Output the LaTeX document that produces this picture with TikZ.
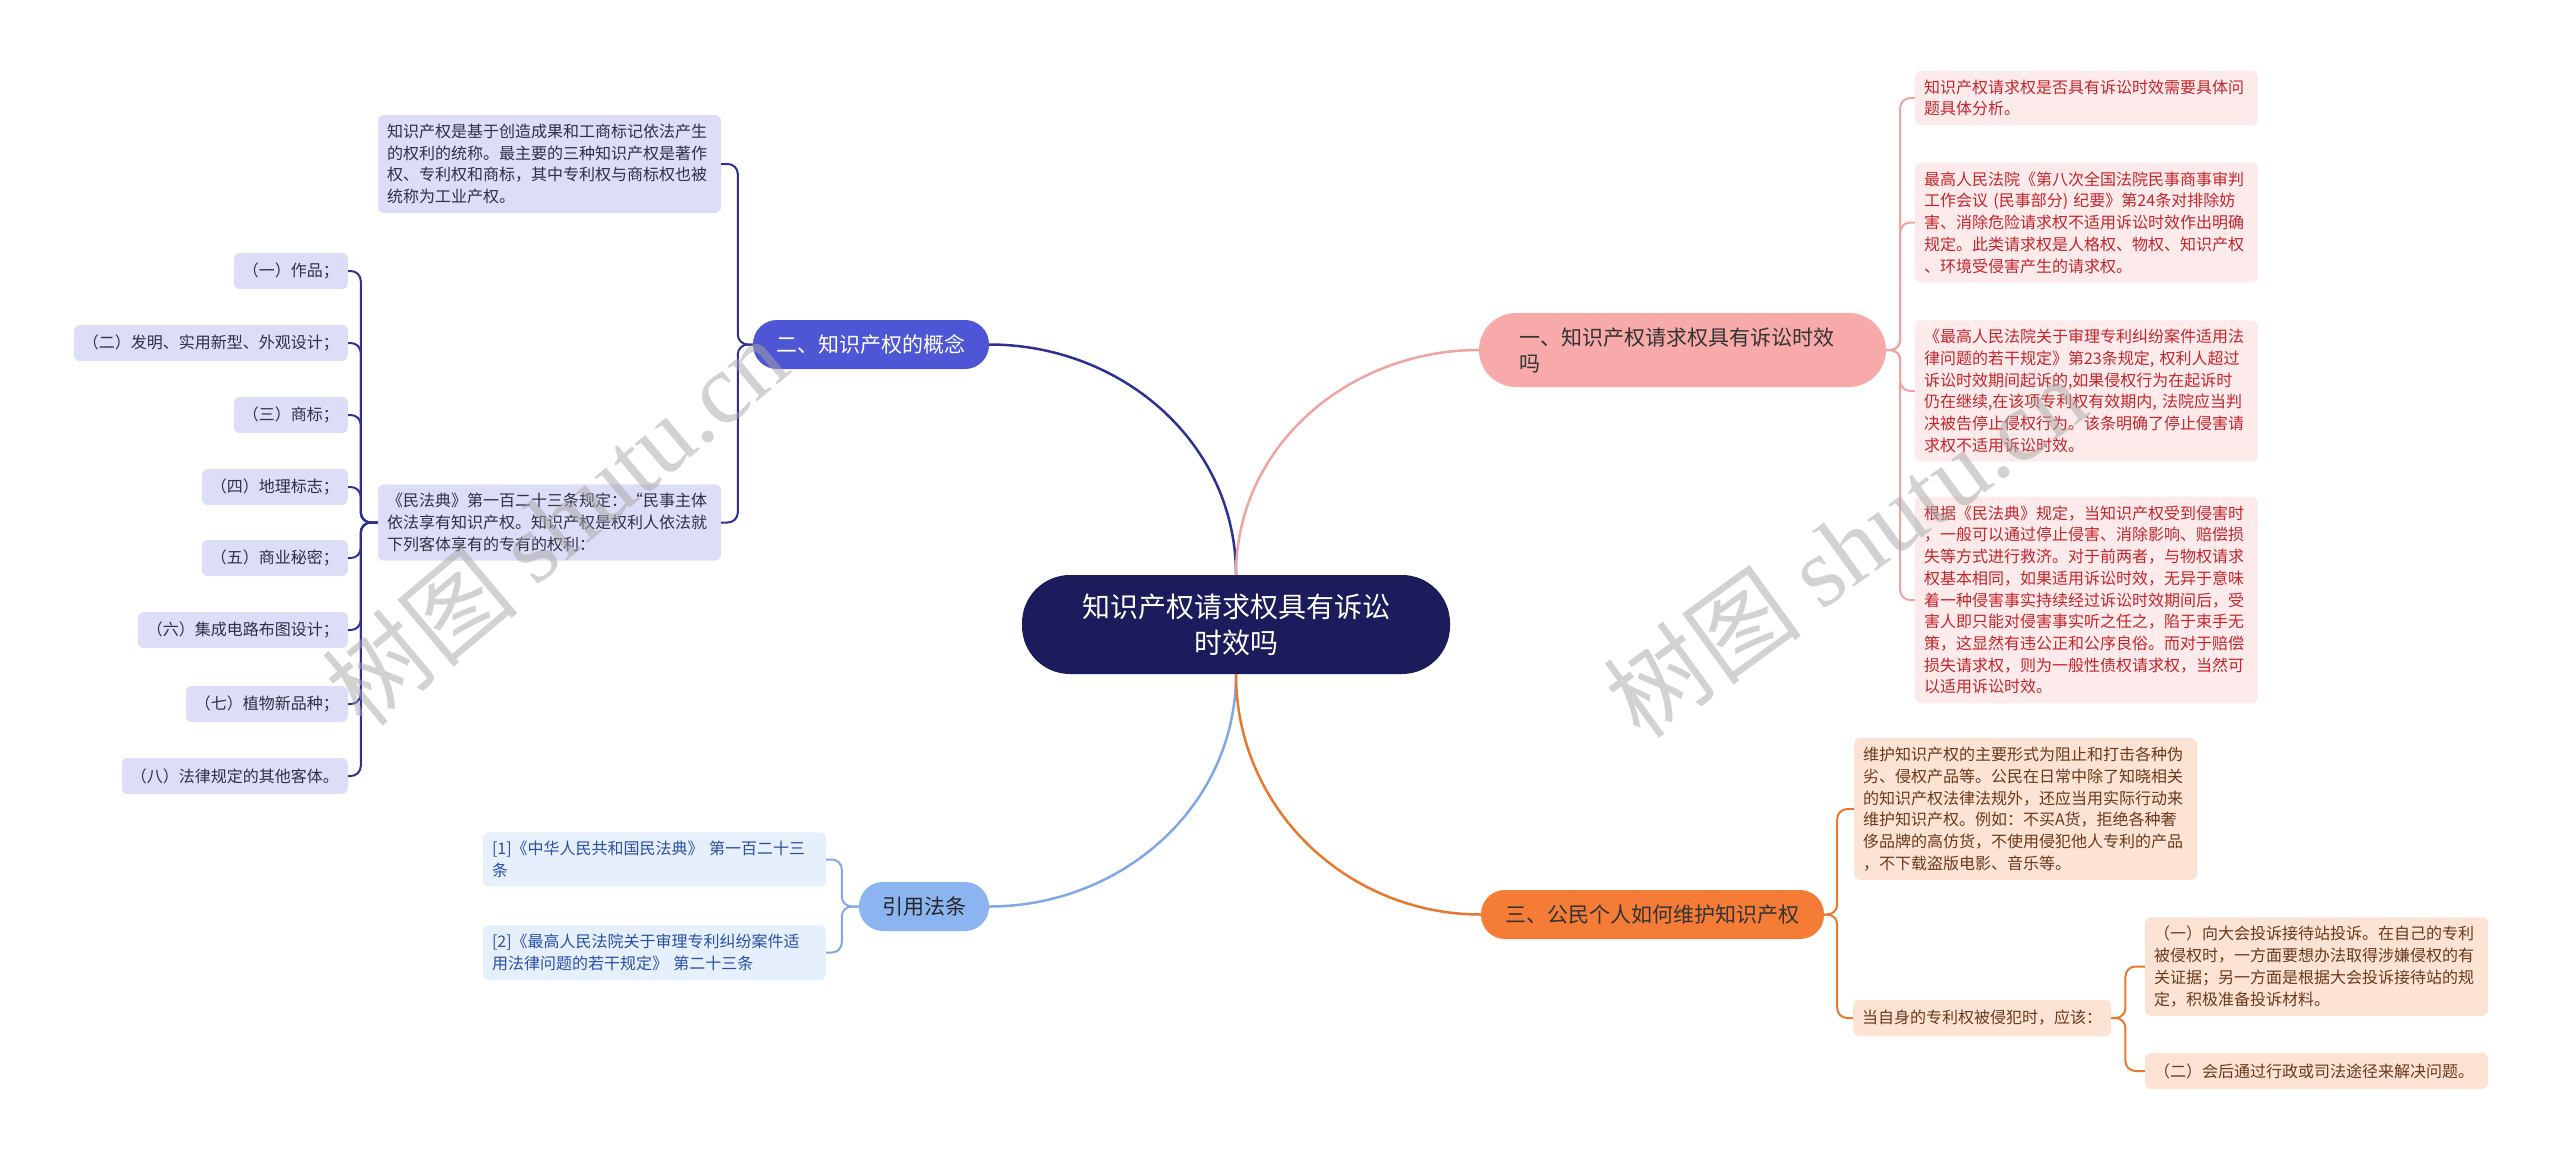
\documentclass[tikz,border=0pt]{standalone}
\usepackage{fontspec}
\setmainfont{Noto Sans CJK SC}
\newfontfamily\wmfont{Liberation Serif}
\usetikzlibrary{positioning}

% Colours of the four branches
\definecolor{rootc}{HTML}{1C1B5B}
\definecolor{lavc}{HTML}{4F56D6}
\definecolor{lavlink}{HTML}{2E3192}
\definecolor{lavfill}{HTML}{DCDDF6}
\definecolor{lavtext}{HTML}{2F2F45}
\definecolor{citec}{HTML}{8CB4F0}
\definecolor{citelink}{HTML}{7FA8E4}
\definecolor{citefill}{HTML}{E6EFFC}
\definecolor{citetext}{HTML}{2C50A8}
\definecolor{pinkc}{HTML}{F8A9A9}
\definecolor{pinklink}{HTML}{F0A3A3}
\definecolor{pinkfill}{HTML}{FDEBEB}
\definecolor{pinktext}{HTML}{C4252C}
\definecolor{orc}{HTML}{F47C36}
\definecolor{orlink}{HTML}{E8782E}
\definecolor{orfill}{HTML}{FCE3D4}
\definecolor{ortext}{HTML}{6B3A1C}

\begin{document}
\begin{tikzpicture}[
    x=1pt, y=1pt,
    root/.style={fill=rootc, text=white, rounded corners=48pt, minimum width=428pt,
        minimum height=99pt, align=center, font=\fontsize{28}{36}\selectfont}, % Central topic
    topic/.style={rounded corners=24pt, minimum height=49pt, inner sep=0pt,
        align=center, font=\fontsize{21}{26}\selectfont}, % First level
    leaf/.style={rounded corners=6pt, minimum height=36pt, inner xsep=9pt,
        inner ysep=9pt, align=left, font=\fontsize{16}{21.7}\selectfont}, % Text boxes
    wide/.style={text width=325pt}, % Boxes of full width
    link/.style={line width=2.5pt}, % Curves from the centre
    bracket/.style={line width=2pt, rounded corners=10pt}, % Curves to the boxes
    wmark/.style={text=gray!70, opacity=0.5, font=\fontsize{100}{100}\selectfont}
]
    \useasboundingbox (0,0) rectangle (2560,-1159);

    % Central topic
    \node[root] (root) at (1236,-624.5) {知识产权请求权具有诉讼\\时效吗};

    % Branch: concept
    \node[topic, fill=lavc, text=white, minimum width=236pt] (concept) at (871,-344.5) {二、知识产权的概念};
    \node[leaf, wide, fill=lavfill, text=lavtext] (define) at (549.5,-164)
        {知识产权是基于创造成果和工商标记依法产生\\的权利的统称。最主要的三种知识产权是著作\\权、专利权和商标，其中专利权与商标权也被\\统称为工业产权。};
    \node[leaf, wide, fill=lavfill, text=lavtext] (civil) at (549.5,-522.5)
        {《民法典》第一百二十三条规定：“民事主体\\依法享有知识产权。知识产权是权利人依法就\\下列客体享有的专有的权利：};
    \foreach \i/\y/\txt in {1/271/{（一）作品；}, 2/343/{（二）发明、实用新型、外观设计；},
        3/415/{（三）商标；}, 4/487/{（四）地理标志；}, 5/558/{（五）商业秘密；},
        6/630/{（六）集成电路布图设计；}, 7/704/{（七）植物新品种；}, 8/776/{（八）法律规定的其他客体。}} {
        \node[leaf, fill=lavfill, text=lavtext, anchor=east] (item\i) at (348,-\y) {\txt};
    }

    % Branch: cited articles
    \node[topic, fill=citec, text=black!85, minimum width=130pt] (cited) at (924,-906.5) {引用法条};
    \node[leaf, wide, fill=citefill, text=citetext] (cite1) at (654.5,-859.5)
        {[1]《中华人民共和国民法典》 第一百二十三\\条};
    \node[leaf, wide, fill=citefill, text=citetext] (cite2) at (654.5,-952.5)
        {[2]《最高人民法院关于审理专利纠纷案件适\\用法律问题的若干规定》 第二十三条};

    % Branch: limitation
    \node[topic, fill=pinkc, text=black!80, minimum width=407pt, minimum height=74pt,
        rounded corners=37pt, text width=327pt, align=left] (limit) at (1682.5,-350)
        {一、知识产权请求权具有诉讼时效\\吗};
    \node[leaf, wide, fill=pinkfill, text=pinktext] (pink1) at (2086.5,-98)
        {知识产权请求权是否具有诉讼时效需要具体问\\题具体分析。};
    \node[leaf, wide, fill=pinkfill, text=pinktext] (pink2) at (2086.5,-222.5)
        {最高人民法院《第八次全国法院民事商事审判\\工作会议 (民事部分) 纪要》第24条对排除妨\\害、消除危险请求权不适用诉讼时效作出明确\\规定。此类请求权是人格权、物权、知识产权\\、环境受侵害产生的请求权。};
    \node[leaf, wide, fill=pinkfill, text=pinktext] (pink3) at (2086.5,-391)
        {《最高人民法院关于审理专利纠纷案件适用法\\律问题的若干规定》第23条规定, 权利人超过\\诉讼时效期间起诉的,如果侵权行为在起诉时\\仍在继续,在该项专利权有效期内, 法院应当判\\决被告停止侵权行为。该条明确了停止侵害请\\求权不适用诉讼时效。};
    \node[leaf, wide, fill=pinkfill, text=pinktext] (pink4) at (2086.5,-600)
        {根据《民法典》规定，当知识产权受到侵害时\\，一般可以通过停止侵害、消除影响、赔偿损\\失等方式进行救济。对于前两者，与物权请求\\权基本相同，如果适用诉讼时效，无异于意味\\着一种侵害事实持续经过诉讼时效期间后，受\\害人即只能对侵害事实听之任之，陷于束手无\\策，这显然有违公正和公序良俗。而对于赔偿\\损失请求权，则为一般性债权请求权，当然可\\以适用诉讼时效。};

    % Branch: protection
    \node[topic, fill=orc, text=black!80, minimum width=343pt] (protect) at (1652.5,-914.5) {三、公民个人如何维护知识产权};
    \node[leaf, wide, fill=orfill, text=ortext] (way) at (2025.5,-809)
        {维护知识产权的主要形式为阻止和打击各种伪\\劣、侵权产品等。公民在日常中除了知晓相关\\的知识产权法律法规外，还应当用实际行动来\\维护知识产权。例如：不买A货，拒绝各种奢\\侈品牌的高仿货，不使用侵犯他人专利的产品\\，不下载盗版电影、音乐等。};
    \node[leaf, fill=orfill, text=ortext, anchor=west] (when) at (1853,-1018) {当自身的专利权被侵犯时，应该：};
    \node[leaf, wide, fill=orfill, text=ortext] (step1) at (2316.5,-966.5)
        {（一）向大会投诉接待站投诉。在自己的专利\\被侵权时，一方面要想办法取得涉嫌侵权的有\\关证据；另一方面是根据大会投诉接待站的规\\定，积极准备投诉材料。};
    \node[leaf, wide, fill=orfill, text=ortext] (step2) at (2316.5,-1071)
        {（二）会后通过行政或司法途径来解决问题。};

    % Curves from the centre
    \draw[link, lavlink] (root.north) to[out=90, in=0] (concept.east);
    \draw[link, pinklink] (root.north) to[out=90, in=180] (limit.west);
    \draw[link, citelink] (root.south) to[out=-90, in=0] (cited.east);
    \draw[link, orlink] (root.south) to[out=-90, in=180] (protect.west);

    % Brackets to the boxes
    \foreach \n in {define, civil}
        \draw[bracket, lavlink] (concept.west) -- ++(-15,0) |- (\n.east);
    \foreach \i in {1,...,8}
        \draw[bracket, lavlink] (civil.west) -- ++(-17,0) |- (item\i.east);
    \foreach \n in {cite1, cite2}
        \draw[bracket, citelink] (cited.west) -- ++(-17,0) |- (\n.east);
    \foreach \n in {pink1, pink2, pink3, pink4}
        \draw[bracket, pinklink] (limit.east) -- ++(14,0) |- (\n.west);
    \foreach \n in {way, when}
        \draw[bracket, orlink] (protect.east) -- ++(13,0) |- (\n.west);
    \foreach \n in {step1, step2}
        \draw[bracket, orlink] (when.east) -- ++(14,0) |- (\n.west);

    % Watermarks
    \node[wmark, rotate=40] (wmleft) at (555,-522) {树图 {\wmfont shutu.cn}};
    \node[wmark, rotate=36] (wmright) at (1845,-547) {树图 {\wmfont shutu.cn}};

\end{tikzpicture}
\end{document}
